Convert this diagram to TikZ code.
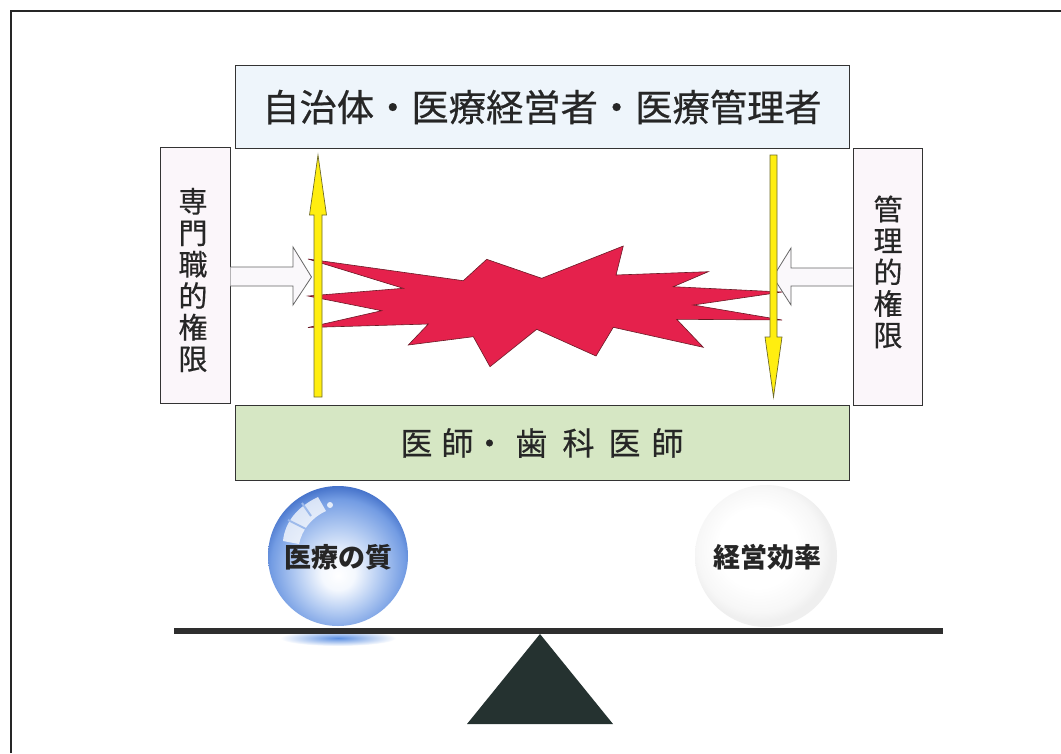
\documentclass[tikz,border=0pt]{standalone}
\usepackage{fontspec}
\newfontfamily\jp{Noto Sans CJK JP}
\newfontfamily\jpbox[FakeBold=0.45]{Noto Sans CJK JP}
\usetikzlibrary{calc}

\definecolor{ink}{HTML}{333333}
\definecolor{topfill}{HTML}{EEF5FB}
\definecolor{sidefill}{HTML}{FBF6FA}
\definecolor{docfill}{HTML}{D6E7C4}
\definecolor{clash}{HTML}{E5214C}
\definecolor{clashline}{HTML}{6A1A26}
\definecolor{arrowyellow}{HTML}{FFEE10}
\definecolor{arrowline}{HTML}{6E6A2A}
\definecolor{hollowfill}{HTML}{FAF8FB}
\definecolor{beam}{HTML}{2E2E2E}
\definecolor{fulcrum}{HTML}{253230}
\definecolor{glow}{HTML}{5B8FE2}
\definecolor{glassA}{HTML}{F4F8FE}
\definecolor{glassB}{HTML}{B3CBF2}
\definecolor{glassC}{HTML}{739CE3}
\definecolor{glassD}{HTML}{3A68C4}
\definecolor{pearlA}{HTML}{F7F7F7}
\definecolor{pearlB}{HTML}{EFEFEF}

% glass ball, bright towards the bottom, blue rim
\pgfdeclareradialshading{bluesphere}{\pgfpoint{0bp}{-7bp}}{%
  color(0bp)=(white); color(6bp)=(glassA); color(15bp)=(glassB);
  color(24bp)=(glassC); color(29bp)=(glassD); color(50bp)=(glassD)}
% pale pearl ball
\pgfdeclareradialshading{whitesphere}{\pgfpoint{-4bp}{4bp}}{%
  color(0bp)=(white); color(14bp)=(white); color(22bp)=(pearlA);
  color(25bp)=(pearlB); color(50bp)=(pearlB)}

\begin{document}
\begin{tikzpicture}[x=1pt,y=-1pt,
  box/.style={draw=ink, line width=0.9pt, inner sep=0pt},
  vtext/.style={font=\fontsize{29}{31.5}\selectfont\jpbox, align=center, text=black!85},
  hollow/.style={draw=black!60, fill=hollowfill, line width=0.8pt, line join=miter},
  yellowarrow/.style={draw=arrowline, fill=arrowyellow, line width=0.7pt, line join=miter},
  balltext/.style={font=\fontsize{27}{30}\selectfont\jp\bfseries, text=black!85}]
\useasboundingbox (0,0) rectangle (1061,753);
\fill[white] (0,0) rectangle (1061,753);

% page frame
\draw[line width=1.6pt, black!85] (11,753) -- (11,11) -- (1061,11);

% parties
\node[box, fill=topfill, minimum width=614pt, minimum height=83pt,
      font=\fontsize{37.3}{45}\selectfont\jpbox, text=black!85]
  (admin) at (542,107) {自治体・医療経営者・医療管理者};
\node[box, fill=docfill, minimum width=614pt, minimum height=75pt,
      font=\fontsize{32}{38}\selectfont\jpbox, text=black!85]
  (doctors) at (542,443)
  {医\hspace{9pt}師\hspace{0pt}・\hspace{10pt}歯\hspace{15pt}科\hspace{14pt}医\hspace{11pt}師};
\node[box, fill=sidefill, minimum width=70pt, minimum height=256pt] (lbox) at (195,275) {};
\node[box, fill=sidefill, minimum width=69pt, minimum height=257pt] (rbox) at (887.5,276.5) {};
\node[vtext] (ltext) at (193,280) {専\\門\\職\\的\\権\\限};
\node[vtext] (rtext) at (888,272) {管\\理\\的\\権\\限};

% clash between the two authorities
\draw[fill=clash, draw=clashline, line width=0.6pt, line join=miter]
  (308,259) -- (463.3,280.7) -- (486.7,259.3) -- (541.7,278.3) -- (623.3,246)
  -- (616,275) -- (708.3,271.7) -- (673.3,286.7) -- (782,292) -- (693.3,305)
  -- (782,320) -- (676.7,319.3) -- (703.3,347.3) -- (613.3,327.3) -- (596,356)
  -- (536.7,329.3) -- (490,366.7) -- (473.3,336.7) -- (408.3,345) -- (428.3,324)
  -- (308,327.5) -- (381.7,310.7) -- (308,296) -- (403.3,288.3) -- cycle;

% pushing arrows from the side boxes
\draw[hollow] (lbox.east |- 0,267) -- (293,267) -- (293,247) -- (311.5,277)
  -- (293,305) -- (293,286) -- (lbox.east |- 0,286);
\draw[hollow] (rbox.west |- 0,268) -- (791,268) -- (791,248) -- (773,277)
  -- (791,305) -- (791,286) -- (rbox.west |- 0,286);

% vertical yellow arrows
\draw[yellowarrow] (314,397) -- (314,215) -- (309.5,215) -- (318,155)
  -- (326.5,215) -- (322,215) -- (322,397) -- cycle;
\draw[yellowarrow] (770,155) -- (777,155) -- (777,337) -- (782,337)
  -- (773.5,397) -- (765,337) -- (770,337) -- cycle;

% balance
\shade[inner color=glow, outer color=white] (338,638) ellipse [x radius=58, y radius=8];
\shade[shading=bluesphere] (338,556) circle [radius=70];
\fill[white, opacity=0.75]
  (283,541) .. controls (285,522) and (297,507) .. (318,497)
  -- (326,511) .. controls (311,518) and (302,530) .. (299,544) -- cycle;
\draw[glassC!70!white, line width=2pt] (288,520) -- (306,529);
\draw[glassC!70!white, line width=2pt] (302,503) -- (311,516);
\fill[white, opacity=0.8] (330,505) circle [radius=3];
\node[balltext] (quality) at (338,557) {医療の質};

\shade[shading=whitesphere] (766,556) circle [radius=71];
\node[balltext] (efficiency) at (767,557) {経営効率};

\coordinate (beamL) at (174,631);
\coordinate (beamR) at (943,631);
\draw[beam, line width=6pt] (beamL) -- (beamR);
\fill[fulcrum] (540,634) -- (613,724) -- (467,724) -- cycle;
\end{tikzpicture}
\end{document}
